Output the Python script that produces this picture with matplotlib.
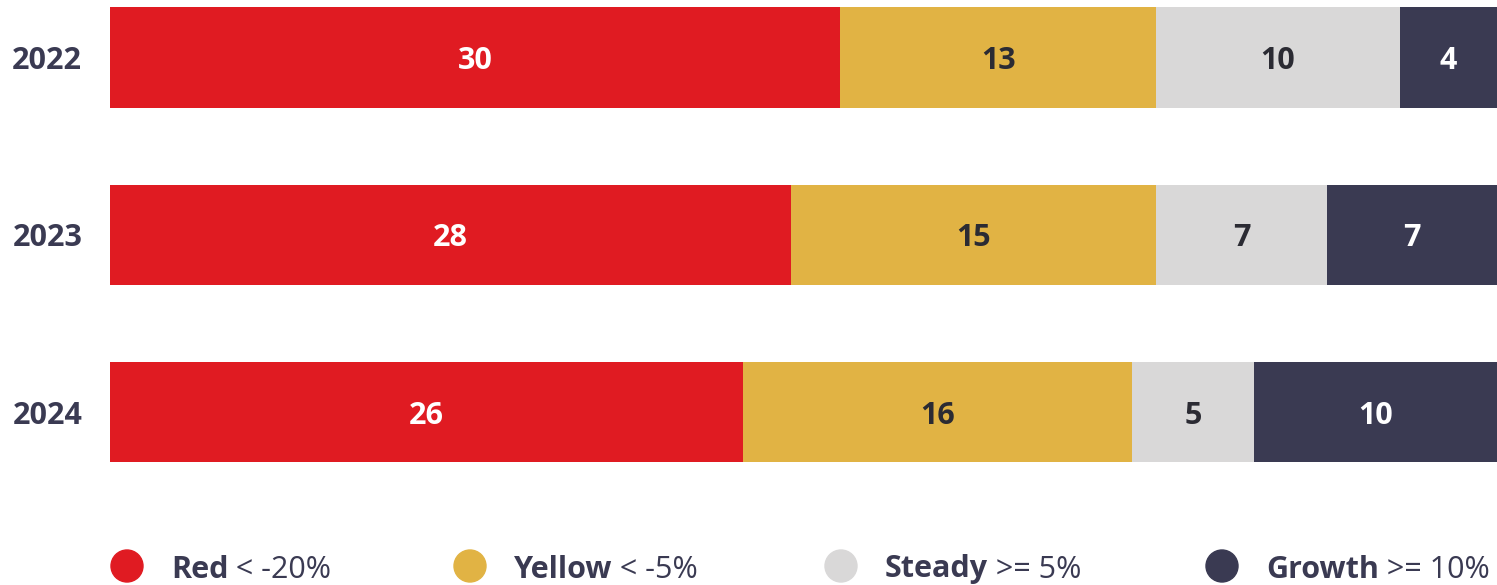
import numpy as np
import matplotlib
matplotlib.use("Agg")
import matplotlib.pyplot as plt
from matplotlib.patches import Ellipse

plt.rcParams['font.family'] = ['Open Sans', 'DejaVu Sans']

years = ['2022', '2023', '2024']
red = [30, 28, 26]
yellow = [13, 15, 16]
steady = [10, 7, 5]
growth = [4, 7, 10]

series = [red, yellow, steady, growth]
names = ['Red', 'Yellow', 'Steady', 'Growth']
conds = ['< -20%', '< -5%', '>= 5%', '>= 10%']
colors = ['#E01B22', '#E1B344', '#D9D8D8', '#3A3A52']
text_colors = ['white', '#2b2b33', '#2b2b33', 'white']
dark = '#3A3A52'

W, H = 1497, 585
fig = plt.figure(figsize=(W / 100, H / 100), dpi=100)
# bar area, in pixel terms of the target image
ax = fig.add_axes([110 / W, 1 - 470 / H, (W - 110) / W, 470 / H])

y = np.arange(len(years))
left = np.zeros(len(years))
for vals, col, tc in zip(series, colors, text_colors):
    vals = np.array(vals)
    bars = ax.barh(y, vals, left=left, height=0.565, color=col, linewidth=0)
    for b, v in zip(bars, vals):
        ax.text(b.get_x() + b.get_width() / 2, b.get_y() + b.get_height() / 2, str(v),
                ha='center', va='center_baseline', color=tc, fontsize=22, fontweight='bold')
    left += vals

ax.set_xlim(0, left.max())
ax.set_ylim(2.327, -0.324)
ax.set_yticks(y)
ax.set_yticklabels(years, fontsize=22, fontweight='bold', color=dark)
ax.tick_params(axis='y', length=0, pad=20)
ax.set_xticks([])
for s in ax.spines.values():
    s.set_visible(False)

# legend: coloured dot, bold name, then the threshold in regular weight
lx = [127, 470, 841, 1222]
ly = 1 - 566 / H
for x, n, c, col in zip(lx, names, conds, colors):
    fig.add_artist(Ellipse((x / W, ly), 32 / W, 32 / H, transform=fig.transFigure, color=col))
    t1 = fig.text((x + 44) / W, ly, n, fontsize=22, fontweight='bold', color=dark,
                  va='center_baseline', ha='left')
    fig.add_artist(plt.Annotation(' ' + c, xy=(1, 0), xycoords=t1, va='bottom', ha='left',
                                  fontsize=22, color=dark, annotation_clip=False))

fig.savefig('out.png', dpi=100)
